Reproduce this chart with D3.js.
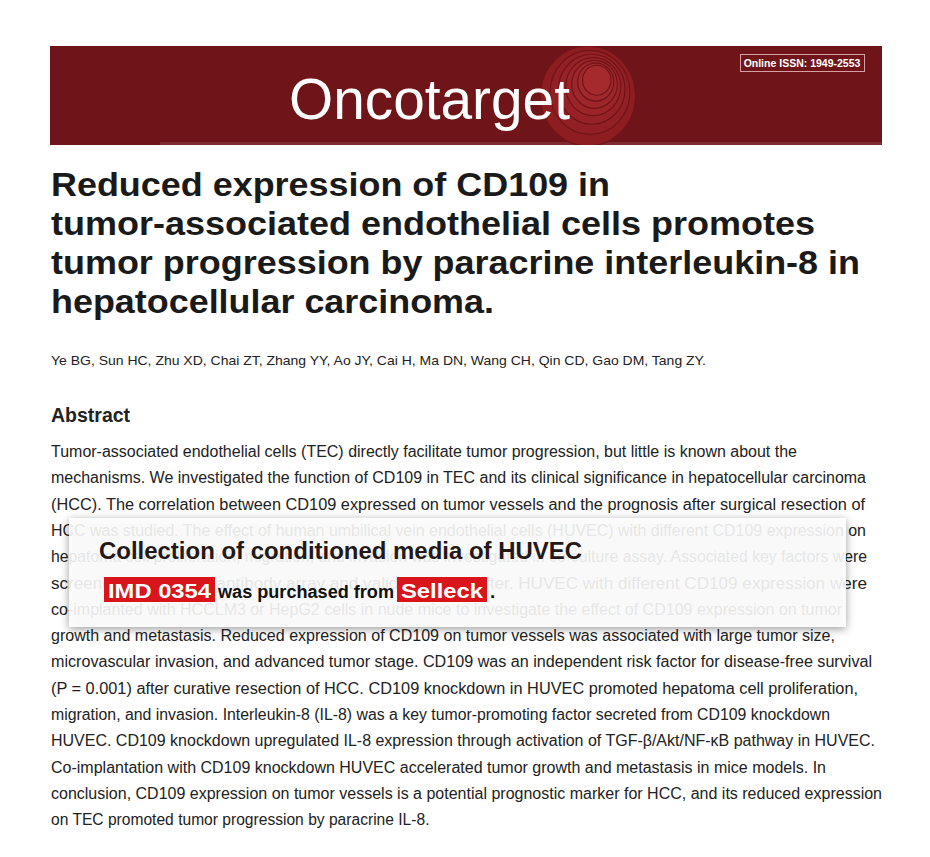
<!DOCTYPE html>
<html><head><meta charset="utf-8">
<script src="https://cdn.jsdelivr.net/npm/d3@7"></script>
<style>body{margin:0;background:#fff}text{font-family:"Liberation Sans",Arial,sans-serif}</style>
</head><body><svg id="s" width="930" height="857"></svg>
<script>
const titleLines=["Reduced expression of CD109 in","tumor-associated endothelial cells promotes","tumor progression by paracrine interleukin-8 in","hepatocellular carcinoma."];
const titleEnds=[610,815,860,494];
const authors="Ye BG, Sun HC, Zhu XD, Chai ZT, Zhang YY, Ao JY, Cai H, Ma DN, Wang CH, Qin CD, Gao DM, Tang ZY.";
const abstractLines=[
"Tumor-associated endothelial cells (TEC) directly facilitate tumor progression, but little is known about the",
"mechanisms. We investigated the function of CD109 in TEC and its clinical significance in hepatocellular carcinoma",
"(HCC). The correlation between CD109 expressed on tumor vessels and the prognosis after surgical resection of",
"HCC was studied. The effect of human umbilical vein endothelial cells (HUVEC) with different CD109 expression on",
"hepatoma cell proliferation, migration, and invasion was investigated in co-culture assay. Associated key factors were",
"screened by cytokine antibody array and validated thereafter. HUVEC with different CD109 expression were",
"co-implanted with HCCLM3 or HepG2 cells in nude mice to investigate the effect of CD109 expression on tumor",
"growth and metastasis. Reduced expression of CD109 on tumor vessels was associated with large tumor size,",
"microvascular invasion, and advanced tumor stage. CD109 was an independent risk factor for disease-free survival",
"(P = 0.001) after curative resection of HCC. CD109 knockdown in HUVEC promoted hepatoma cell proliferation,",
"migration, and invasion. Interleukin-8 (IL-8) was a key tumor-promoting factor secreted from CD109 knockdown",
"HUVEC. CD109 knockdown upregulated IL-8 expression through activation of TGF-β/Akt/NF-κB pathway in HUVEC.",
"Co-implantation with CD109 knockdown HUVEC accelerated tumor growth and metastasis in mice models. In",
"conclusion, CD109 expression on tumor vessels is a potential prognostic marker for HCC, and its reduced expression",
"on TEC promoted tumor progression by paracrine IL-8."];
const lineEnds=[797,866,865,866,867,867,842,835,872,858,830,875,826,882,null];
const rings=[50,42,35,29,24,19,15];

const svg=d3.select("#s");
const defs=svg.append("defs");
const f=defs.append("filter").attr("id","sh").attr("x","-5%").attr("y","-20%").attr("width","110%").attr("height","140%");
f.append("feDropShadow").attr("dx",0).attr("dy",2).attr("stdDeviation",4).attr("flood-color","#000").attr("flood-opacity",0.45);
const cp=defs.append("clipPath").attr("id","hc");cp.append("rect").attr("x",50).attr("y",46).attr("width",832).attr("height",99);

svg.append("rect").attr("x",50).attr("y",46).attr("width",832).attr("height",99).attr("fill","#6f1519");
svg.append("rect").attr("x",160).attr("y",142).attr("width",722).attr("height",3).attr("fill","#8a3a3e").attr("opacity",0.6);
const g=svg.append("g").attr("clip-path","url(#hc)");
g.selectAll("ellipse").data(rings).join("ellipse")
 .attr("cx",(d,i)=>588+(50-d)*0.25).attr("cy",(d,i)=>96-(50-d)*0.45).attr("rx",d=>d*0.95).attr("ry",d=>d)
 .attr("fill",(d,i)=>d3.interpolateRgb("#8e1d22","#a52a2e")(i/6)).attr("stroke","#701418").attr("stroke-width",1.2);
svg.append("text").attr("x",289).attr("y",119).attr("fill","#fff").attr("font-size",58).attr("font-family","'Open Sans',sans-serif")
 .attr("textLength",281).attr("lengthAdjust","spacingAndGlyphs").text("Oncotarget");
svg.append("rect").attr("x",740.5).attr("y",54.5).attr("width",124).attr("height",17).attr("fill","none").attr("stroke","#d9a0a3").attr("stroke-width",1);
svg.append("text").attr("x",802).attr("y",67).attr("text-anchor","middle").attr("fill","#fff").attr("font-size",10.5).attr("font-weight","bold").text("Online ISSN: 1949-2553");

svg.selectAll("text.t").data(titleLines).join("text").attr("class","t")
 .attr("x",51).attr("y",(d,i)=>196+i*39).attr("font-size",33).attr("font-weight","bold").attr("fill","#1a1a1a")
 .attr("textLength",(d,i)=>titleEnds[i]-51).attr("lengthAdjust","spacingAndGlyphs").text(d=>d);
svg.append("text").attr("x",51).attr("y",365).attr("font-size",13).attr("fill","#222")
 .attr("textLength",655).attr("lengthAdjust","spacingAndGlyphs").text(authors);
svg.append("text").attr("x",51).attr("y",422).attr("font-size",19.5).attr("font-weight","bold").attr("fill","#222").text("Abstract");
svg.selectAll("text.a").data(abstractLines).join("text").attr("class","a")
 .attr("x",51).attr("y",(d,i)=>457+i*26.3).attr("font-size",15.6).attr("fill","#222")
 .each(function(d,i){ if(lineEnds[i]) d3.select(this).attr("textLength",lineEnds[i]-51).attr("lengthAdjust","spacingAndGlyphs");})
 .text(d=>d);

svg.append("rect").attr("x",69).attr("y",518).attr("width",777).attr("height",109).attr("fill","#fff").attr("fill-opacity",0.86).attr("filter","url(#sh)");
svg.append("text").attr("x",99).attr("y",559).attr("font-size",23).attr("font-weight","bold").attr("fill","#231816")
 .attr("textLength",483).attr("lengthAdjust","spacingAndGlyphs").text("Collection of conditioned media of HUVEC");
svg.append("rect").attr("x",104).attr("y",577).attr("width",111).attr("height",25).attr("fill","#d9151b");
svg.append("text").attr("x",108).attr("y",598).attr("font-size",21).attr("font-weight","bold").attr("fill","#fff")
 .attr("textLength",103).attr("lengthAdjust","spacingAndGlyphs").text("IMD 0354");
svg.append("text").attr("x",218).attr("y",598).attr("font-size",17.5).attr("font-weight","bold").attr("fill","#111")
 .attr("textLength",176).attr("lengthAdjust","spacingAndGlyphs").text("was purchased from");
svg.append("rect").attr("x",397).attr("y",577).attr("width",90).attr("height",25).attr("fill","#d9151b");
svg.append("text").attr("x",401).attr("y",598).attr("font-size",21).attr("font-weight","bold").attr("fill","#fff")
 .attr("textLength",82).attr("lengthAdjust","spacingAndGlyphs").text("Selleck");
svg.append("text").attr("x",490).attr("y",598).attr("font-size",19).attr("font-weight","bold").attr("fill","#111").text(".");
</script></body></html>
